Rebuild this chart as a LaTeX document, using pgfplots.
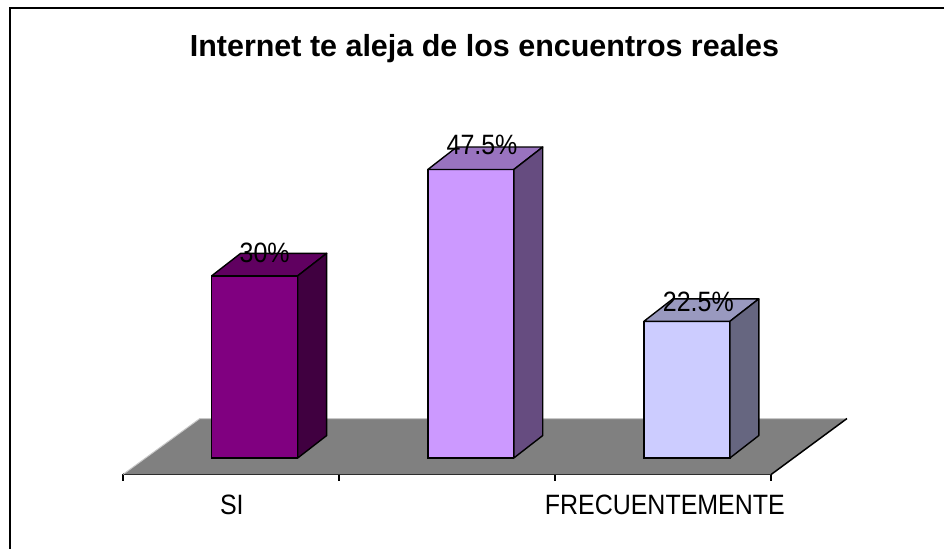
\documentclass[border=0pt]{standalone}
\usepackage{fontspec}
\setmainfont{Liberation Sans}
\usepackage{graphicx}
\usepackage{pgfplots}
\pgfplotsset{compat=1.18}
\definecolor{f1}{HTML}{800080}\definecolor{t1}{HTML}{600060}\definecolor{s1}{HTML}{400040}
\definecolor{f2}{HTML}{CC99FF}\definecolor{t2}{HTML}{9973BF}\definecolor{s2}{HTML}{664C80}
\definecolor{f3}{HTML}{CCCCFF}\definecolor{t3}{HTML}{9999BF}\definecolor{s3}{HTML}{666680}
\definecolor{floor}{HTML}{808080}\definecolor{flooredge}{HTML}{C8C8C8}
\newcommand{\lbl}[1]{\scalebox{1}[1.12]{#1}}
\begin{document}
\begin{tikzpicture}
\begin{axis}[
  x=216.3pt, y=6.08pt,
  xmin=-0.5, xmax=2.5, ymin=-2.71, ymax=60,
  clip=false,
  axis x line=bottom, axis y line=none,
  x axis line style={-, line width=2pt, black},
  xtick={-0.5,0.5,1.5,2.5}, xticklabels={},
  tick align=outside, major tick length=6.5pt,
  xtick style={black, line width=1.5pt},
  ytick=\empty,
]
% invisible bounding rectangle
\path (axis cs:-1.0689,-15.05) rectangle (axis cs:3.300,75.41);
% frame
\draw[line width=2pt, black] (axis cs:3.300,74.14) -- (axis cs:-1.0213,74.14) -- (axis cs:-1.0213,-15.05);
% floor
\addplot[fill=floor, draw=none] coordinates {(-0.5,-2.71) (-0.144,6.5) (2.851,6.5) (2.5,-2.71) (-0.5,-2.71)};
\addplot[flooredge, line width=1pt] coordinates {(-0.5,-2.71) (-0.144,6.5) (2.851,6.5)};
\addplot[black, line width=1.5pt] coordinates {(2.851,6.5) (2.5,-2.71)};
% bar 1 (30)
\addplot[ybar, bar width=86pt, bar shift=23.8pt, fill=f1, draw=black, line width=1.4pt] coordinates {(0,30)};
\addplot[fill=t1, draw=black, line width=1.4pt, line join=round] coordinates {(-0.089,30) (0.045,33.7) (0.443,33.7) (0.309,30) (-0.089,30)};
\addplot[fill=s1, draw=black, line width=1.4pt, line join=round] coordinates {(0.309,0) (0.443,3.7) (0.443,33.7) (0.309,30) (0.309,0)};
% bar 2 (47.5)
\addplot[ybar, bar width=86pt, bar shift=23.8pt, fill=f2, draw=black, line width=1.4pt] coordinates {(1,47.5)};
\addplot[fill=t2, draw=black, line width=1.4pt, line join=round] coordinates {(0.911,47.5) (1.045,51.2) (1.443,51.2) (1.309,47.5) (0.911,47.5)};
\addplot[fill=s2, draw=black, line width=1.4pt, line join=round] coordinates {(1.309,0) (1.443,3.7) (1.443,51.2) (1.309,47.5) (1.309,0)};
% bar 3 (22.5)
\addplot[ybar, bar width=86pt, bar shift=23.8pt, fill=f3, draw=black, line width=1.4pt] coordinates {(2,22.5)};
\addplot[fill=t3, draw=black, line width=1.4pt, line join=round] coordinates {(1.911,22.5) (2.045,26.2) (2.443,26.2) (2.309,22.5) (1.911,22.5)};
\addplot[fill=s3, draw=black, line width=1.4pt, line join=round] coordinates {(2.309,0) (2.443,3.7) (2.443,26.2) (2.309,22.5) (2.309,0)};
% value labels
\node[anchor=base, inner sep=0pt, font=\fontsize{25}{30}\selectfont] at (axis cs:0.156,32.15) {\lbl{30\%}};
\node[anchor=base, inner sep=0pt, font=\fontsize{25}{30}\selectfont] at (axis cs:1.162,49.92) {\lbl{47.5\%}};
\node[anchor=base, inner sep=0pt, font=\fontsize{25}{30}\selectfont] at (axis cs:2.163,24.1) {\lbl{22.5\%}};
% category labels
\node[anchor=base, inner sep=0pt, font=\fontsize{25}{30}\selectfont] at (axis cs:0.004,-9.29) {\lbl{SI}};
\node[anchor=base, inner sep=0pt, font=\fontsize{25}{30}\selectfont] at (axis cs:2.008,-9.29) {\lbl{FRECUENTEMENTE}};
% title
\node[anchor=base, inner sep=0pt, font=\fontsize{30.5}{36}\selectfont\bfseries] at (axis cs:1.1734,66.04) {Internet te aleja de los encuentros reales};
\end{axis}
\end{tikzpicture}
\end{document}
